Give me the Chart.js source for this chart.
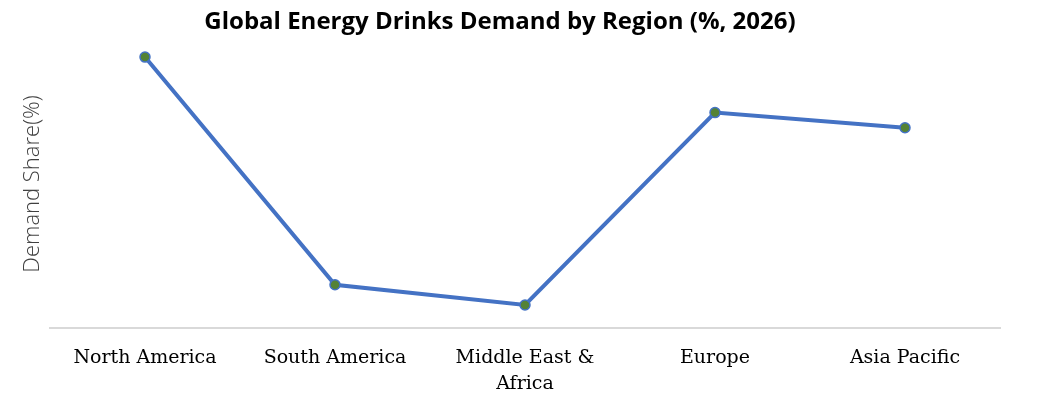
<!DOCTYPE html>
<html>
<head>
<meta charset="utf-8">
<script src="https://cdn.jsdelivr.net/npm/chart.js@4.4.1/dist/chart.umd.min.js"></script>
<style>
html,body{margin:0;padding:0;background:#fff;}
#wrap{width:1045px;height:401px;position:relative;}
</style>
</head>
<body>
<div id="wrap"><canvas id="c"></canvas></div>
<script>
const categories = ["North America", "South America", ["Middle East &", "Africa"], "Europe", "Asia Pacific"];
const demandShare = [37.6, 6.0, 3.2, 29.9, 27.8];
const chartTitle = "Global Energy Drinks Demand by Region (%, 2026)";
const yAxisTitle = "Demand Share(%)";

new Chart(document.getElementById('c'), {
  type: 'line',
  data: {
    labels: categories,
    datasets: [{
      data: demandShare,
      borderColor: '#4472C4',
      borderWidth: 4,
      pointBackgroundColor: '#548235',
      pointBorderColor: '#4472C4',
      pointBorderWidth: 1.5,
      pointRadius: 5,
      tension: 0,
      fill: false
    }]
  },
  options: {
    responsive: true,
    maintainAspectRatio: false,
    animation: false,
    devicePixelRatio: 1,
    layout: { padding: { left: 0, right: 45, top: 0, bottom: 0 } },
    plugins: {
      legend: { display: false },
      tooltip: { enabled: false },
      title: {
        display: true,
        text: chartTitle,
        color: '#000',
        font: { family: 'Open Sans', size: 24, weight: 'bold', lineHeight: 1.2 },
        padding: { top: 8, bottom: 3 }
      }
    },
    scales: {
      x: {
        offset: true,
        grid: { display: false, drawTicks: false },
        border: { display: true, color: '#d9d9d9', width: 2 },
        ticks: {
          color: '#000',
          font: { family: 'DejaVu Serif', size: 19, lineHeight: 1.38 },
          padding: 17,
          maxRotation: 0,
          autoSkip: false
        },
        afterFit: s => { s.height = 73; }
      },
      y: {
        min: 0,
        max: 40,
        grid: { display: false, drawTicks: false },
        border: { display: false },
        ticks: { display: false },
        title: {
          display: true,
          text: yAxisTitle,
          color: '#404040',
          font: { family: 'Open Sans', size: 22, weight: '300', lineHeight: 1.2 },
          padding: { top: 20, bottom: 0 }
        },
        afterFit: s => { s.width = 50; }
      }
    }
  }
});
</script>
</body>
</html>
